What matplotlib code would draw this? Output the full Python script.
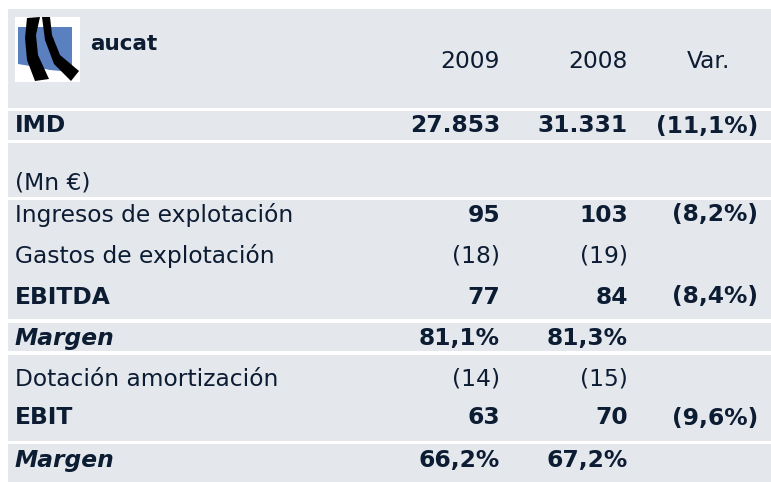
import matplotlib
matplotlib.use("Agg")
import matplotlib.pyplot as plt
from matplotlib.patches import Rectangle, Polygon

# ---- data ----
company = "aucat"
header_cols = ["2009", "2008", "Var."]
imd_label = "IMD"
imd_values = ["27.853", "31.331", "(11,1%)"]
unit_label = "(Mn €)"
row_labels = ["Ingresos de explotación", "Gastos de explotación", "EBITDA", "Margen",
              "Dotación amortización", "EBIT", "Margen"]
vals_2009 = ["95", "(18)", "77", "81,1%", "(14)", "63", "66,2%"]
vals_2008 = ["103", "(19)", "84", "81,3%", "(15)", "70", "67,2%"]
vals_var = ["(8,2%)", "", "(8,4%)", "", "", "(9,6%)", ""]
label_style = ["normal", "normal", "bold", "bolditalic", "normal", "bold", "bolditalic"]
value_bold = [True, False, True, True, False, True, True]

# ---- layout ----
W, H = 771, 482
bg = "#E4E7EB"
fg = "#0C1C33"
fs = 16.8

fig = plt.figure(figsize=(W / 100, H / 100), dpi=100)
ax = fig.add_axes([0, 0, 1, 1])
ax.set_xlim(0, W)
ax.set_ylim(H, 0)
ax.axis("off")

blocks = [(9, 108), (111, 140), (143, 197), (200, 319), (323, 351), (355, 441), (444, 482)]
for y0, y1 in blocks:
    ax.add_patch(Rectangle((8, y0), W - 8, y1 - y0, facecolor=bg, edgecolor="none"))

# logo
ax.add_patch(Rectangle((15, 17), 65, 65, facecolor="white", edgecolor="none"))
ax.add_patch(Polygon([(18, 27), (72, 27), (72, 72), (50, 70), (30, 66), (18, 64)],
                     closed=True, facecolor="#5B80C0", edgecolor="none"))
ax.add_patch(Polygon([(27, 18), (40, 17), (36, 35), (38, 55), (49, 79), (35, 81), (27, 60), (25, 38)],
                     closed=True, facecolor="black", edgecolor="none"))
ax.add_patch(Polygon([(42, 17), (50, 17), (52, 35), (60, 55), (79, 71), (71, 81), (54, 64), (45, 40)],
                     closed=True, facecolor="black", edgecolor="none"))

ax.text(90, 44, company, fontsize=15.5, fontweight="bold", color=fg, va="center", ha="left")

col_x = [500, 628, 758]
header_y = 62
ax.text(col_x[0], header_y, header_cols[0], fontsize=fs, color=fg, va="center", ha="right")
ax.text(col_x[1], header_y, header_cols[1], fontsize=fs, color=fg, va="center", ha="right")
ax.text(687, header_y, header_cols[2], fontsize=fs, color=fg, va="center", ha="left")

label_x = 15
imd_y = 126
ax.text(label_x, imd_y, imd_label, fontsize=fs, fontweight="bold", color=fg, va="center")
for x, v in zip(col_x, imd_values):
    ax.text(x, imd_y, v, fontsize=fs, fontweight="bold", color=fg, va="center", ha="right")

ax.text(label_x, 183, unit_label, fontsize=fs, color=fg, va="center")

row_y = [215, 256, 297, 338, 379, 418, 460]
for i, lab in enumerate(row_labels):
    y = row_y[i]
    st = label_style[i]
    kw = dict(fontsize=fs, color=fg, va="center")
    if st == "bold":
        kw["fontweight"] = "bold"
    elif st == "bolditalic":
        kw["fontweight"] = "bold"
        kw["fontstyle"] = "italic"
    ax.text(label_x, y, lab, **kw)
    w = "bold" if value_bold[i] else "normal"
    for x, v in zip(col_x, [vals_2009[i], vals_2008[i], vals_var[i]]):
        if v:
            ax.text(x, y, v, fontsize=fs, fontweight=w, color=fg, va="center", ha="right")

fig.savefig("out.png", dpi=100, facecolor="white")
